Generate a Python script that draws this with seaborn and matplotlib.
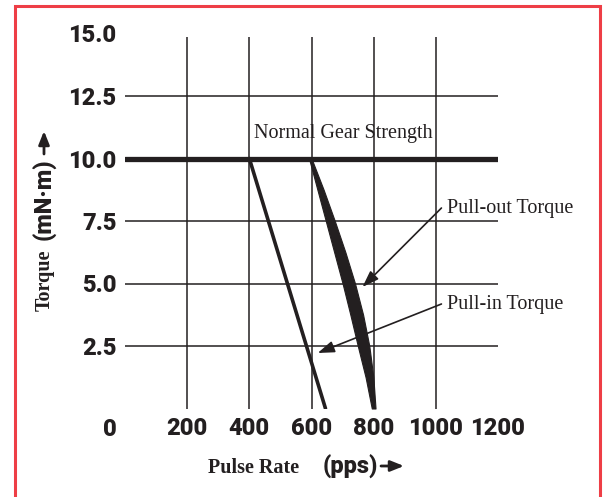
import matplotlib
matplotlib.use("Agg")
import matplotlib.pyplot as plt
import seaborn as sns
from matplotlib import font_manager
from matplotlib.patches import Rectangle, FancyArrowPatch

# axis ticks
torque_ticks = [2.5, 5.0, 7.5, 10.0, 12.5, 15.0]
torque_labels = ["2.5", "5.0", "7.5", "10.0", "12.5", "15.0"]
rate_ticks = [200, 400, 600, 800, 1000, 1200]
rate_labels = ["200", "400", "600", "800", "1000", "1200"]
grid_torque = [2.5, 5.0, 7.5, 12.5]
grid_rate = [200, 400, 600, 800, 1000]
gear_strength = 10.0

# pull-in torque (straight line)
pullin_rate = [400, 645]
pullin_torque = [10.0, 0.0]

# pull-out torque (thin lens-shaped band)
pullout_torque = [10.0, 8.75, 7.5, 6.25, 5.0, 3.75, 2.5, 1.25, 0.0]
pullout_rate_lo = [592, 619, 646, 673, 700, 725, 749, 774, 794]
pullout_rate_hi = [600, 639, 675, 709, 740, 766, 786, 799, 806]

INK = "#231f20"
RED = "#ee3e46"
W, H = 605, 497

sns.set_theme(style="white")


def weight_num(w):
    return w if isinstance(w, int) else font_manager.weight_dict.get(w, 400)


# pick the heaviest installed sans for the chunky numerals
heavy, heavy_w = "Roboto", "bold"
for name in ["Roboto", "Lato", "Inter", "Noto Sans", "Open Sans"]:
    ws = [weight_num(f.weight) for f in font_manager.fontManager.ttflist
          if f.name == name and f.style == "normal"]
    if ws and max(ws) >= 800:
        heavy, heavy_w = name, max(ws)
        break
serif = "Liberation Serif"
plt.rcParams["font.family"] = [heavy, "DejaVu Sans"]

fig = plt.figure(figsize=(W / 100, H / 100), dpi=100)
ax = fig.add_axes([125 / W, 1 - 408.5 / H, 373 / W, 375 / H])


def fx(px):
    return px / W


def fy(py):
    return 1 - py / H


# grid
ax.hlines(grid_torque, 0, 1200, color=INK, lw=1.1)
ax.vlines(grid_rate, 0, 14.85, color=INK, lw=1.1)
ax.axhline(gear_strength, color=INK, lw=3.8)

sns.lineplot(x=pullin_rate, y=pullin_torque, sort=False, estimator=None,
             color=INK, lw=2.6, ax=ax)
ax.fill_betweenx(pullout_torque, pullout_rate_lo, pullout_rate_hi,
                 color=INK, lw=0.8)

ax.set_xlim(0, 1200)
ax.set_ylim(0, 15)
for s in ax.spines.values():
    s.set_visible(False)
ax.set_xticks(rate_ticks, rate_labels)
ax.set_yticks(torque_ticks, torque_labels)
ax.tick_params(length=0, labelsize=17, labelcolor=INK)
ax.tick_params(axis="x", pad=6)
ax.tick_params(axis="y", pad=6)
for lab in ax.get_xticklabels() + ax.get_yticklabels():
    lab.set_fontweight(heavy_w)
ax.annotate("0", xy=(0, 0), xytext=(-6, -15), textcoords="offset points",
            ha="right", va="center", fontsize=17, fontweight=heavy_w, color=INK)

# annotations
ax.text(414, 11.0, "Normal Gear Strength", family=serif, fontsize=14.5,
        color=INK, ha="left", va="center")
ax.text(1037, 8.0, "Pull-out Torque", family=serif, fontsize=14.5,
        color=INK, ha="left", va="center")
ax.text(1037, 4.18, "Pull-in Torque", family=serif, fontsize=14.5,
        color=INK, ha="left", va="center")
arrow = dict(arrowstyle="-|>,head_length=1.0,head_width=0.35", color=INK,
             lw=1.2, shrinkA=0, shrinkB=0, mutation_scale=10)
ax.annotate("", xy=(764, 4.86), xytext=(1018, 8.02), arrowprops=arrow,
            annotation_clip=False)
ax.annotate("", xy=(620, 2.22), xytext=(1018, 4.18), arrowprops=arrow,
            annotation_clip=False)

# axis titles
fig.text(fx(208), fy(468), "Pulse Rate", family=serif, fontweight="bold",
         fontsize=14.5, color=INK, ha="left", va="center")
fig.text(fx(323), fy(467), "(pps)", fontweight=heavy_w, fontsize=17,
         color=INK, ha="left", va="center")
fig.text(fx(45), fy(280), "Torque", family=serif, fontweight="bold",
         fontsize=14.5, color=INK, ha="center", va="center", rotation=90)
fig.text(fx(45), fy(199), "(mN\u00b7m)", fontweight=heavy_w, fontsize=17,
         color=INK, ha="center", va="center", rotation=90)
title_arrow = dict(arrowstyle="-|>,head_length=0.8,head_width=0.32", color=INK,
                   lw=2.0, shrinkA=0, shrinkB=0, mutation_scale=10)
fig.add_artist(FancyArrowPatch((fx(381), fy(466)), (fx(404), fy(466)),
                               transform=fig.transFigure, **title_arrow))
fig.add_artist(FancyArrowPatch((fx(44), fy(154)), (fx(44), fy(131)),
                               transform=fig.transFigure, **title_arrow))

# red frame
fig.patches.append(Rectangle((fx(15), -0.02), fx(600) - fx(15), fy(6) + 0.02,
                             transform=fig.transFigure, fill=False,
                             ec=RED, lw=2.2))

fig.savefig("out.png", dpi=100)
